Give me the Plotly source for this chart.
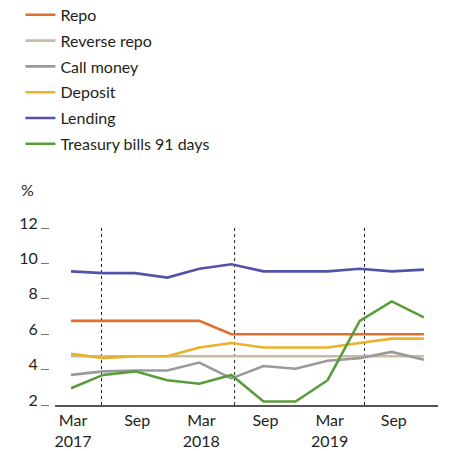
import plotly.graph_objects as go

quarters = ["Mar 2017", "Jun 2017", "Sep 2017", "Dec 2017",
            "Mar 2018", "Jun 2018", "Sep 2018", "Dec 2018",
            "Mar 2019", "Jun 2019", "Sep 2019", "Dec 2019"]

repo = [6.75, 6.75, 6.75, 6.75, 6.75, 6.0, 6.0, 6.0, 6.0, 6.0, 6.0, 6.0]
reverse_repo = [4.75] * 12
call_money = [3.7, 3.9, 3.95, 3.95, 4.4, 3.5, 4.2, 4.05, 4.5, 4.65, 5.0, 4.55]
deposit = [4.9, 4.65, 4.75, 4.75, 5.25, 5.5, 5.25, 5.25, 5.25, 5.5, 5.75, 5.75]
lending = [9.55, 9.45, 9.45, 9.2, 9.7, 9.95, 9.55, 9.55, 9.55, 9.7, 9.55, 9.65]
tbills_91 = [2.95, 3.7, 3.9, 3.4, 3.2, 3.7, 2.2, 2.2, 3.4, 6.75, 7.85, 6.95]

series_names = ["Repo", "Reverse repo", "Call money", "Deposit", "Lending",
                "Treasury bills 91 days"]
series_values = [repo, reverse_repo, call_money, deposit, lending, tbills_91]
series_colors = ["#DF6F2C", "#CBBBA0", "#9A9A9A", "#EAB12A", "#5253A8", "#5A9C3A"]

tick_quarters = ["Mar 2017", "Sep 2017", "Mar 2018", "Sep 2018", "Mar 2019", "Sep 2019"]
tick_text = ["Mar<br>2017", "Sep", "Mar<br>2018", "Sep", "Mar<br>2019", "Sep"]
y_ticks = [2, 4, 6, 8, 10, 12]
event_positions = [0.95, 5.1, 9.15]

TEXT = "#231F20"
FONT = "Lato"

fig = go.Figure()
for name, vals, col in zip(series_names, series_values, series_colors):
    fig.add_trace(go.Scatter(x=quarters, y=vals, name=name, mode="lines",
                             legendgroup=name,
                             line=dict(color=col, width=2.6)))

for xp in event_positions:
    fig.add_shape(type="line", xref="x", yref="y", x0=xp, x1=xp, y0=2, y1=12,
                  line=dict(color="#222222", width=1, dash="dot"), layer="below")

fig.add_annotation(text="%", xref="paper", yref="paper", x=-0.055, y=1.215,
                   xanchor="center", yanchor="middle",
                   showarrow=False, font=dict(family=FONT, size=16, color=TEXT))

fig.update_layout(
    width=451, height=451,
    margin=dict(l=49, r=5, t=228, b=46, autoexpand=False),
    paper_bgcolor="white", plot_bgcolor="white",
    font=dict(family=FONT, size=16, color=TEXT),
    showlegend=True,
    legend=dict(xref="paper", yref="paper", x=-0.072, y=2.30,
                xanchor="left", yanchor="top", font=dict(family=FONT, size=16, color=TEXT),
                bgcolor="rgba(0,0,0,0)", itemwidth=30, tracegroupgap=2),
    xaxis=dict(type="category", range=[-0.5, 11.44], domain=[0.0151, 0.9798],
               tickvals=tick_quarters, ticktext=tick_text, ticks="",
               showgrid=False, zeroline=False, showline=True, linecolor="#555555",
               linewidth=1.5, tickfont=dict(family=FONT, size=16, color=TEXT),
               ticklabelstandoff=0, ticklabelshift=2, anchor="y"),
    yaxis=dict(range=[2, 12], tickvals=y_ticks, ticks="outside", ticklen=8,
               tickcolor="#777777", tickwidth=1.2, showgrid=False, zeroline=False,
               showline=False, anchor="free", position=0, ticklabelshift=-5,
               tickfont=dict(family=FONT, size=16, color=TEXT)),
    yaxis2=dict(range=[2, 12], tickvals=y_ticks, ticks="outside", ticklen=5,
                tickcolor="#555555", tickwidth=1.2, showgrid=False, zeroline=False,
                showline=False, showticklabels=False, overlaying="y",
                anchor="free", position=1, side="right"),
)

fig.write_html("out.html", config={"displayModeBar": False},
               post_script="document.body.style.margin='0px';")
